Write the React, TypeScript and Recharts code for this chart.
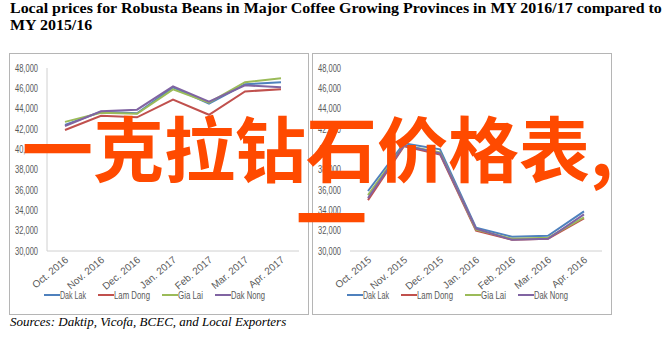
import React from 'react';
import { LineChart, Line, XAxis, YAxis, Legend } from 'recharts';

const monthsCurrent = ['Oct. 2016', 'Nov. 2016', 'Dec. 2016', 'Jan. 2017', 'Feb. 2017', 'Mar. 2017', 'Apr. 2017'];
const monthsPrevious = ['Oct. 2015', 'Nov. 2015', 'Dec. 2015', 'Jan. 2016', 'Feb. 2016', 'Mar. 2016', 'Apr. 2016'];

// MY 2016/17 prices (VND/kg)
const dakLakCurrent = [42400, 43700, 43550, 46100, 44500, 46400, 46600];
const lamDongCurrent = [41900, 43300, 43150, 44900, 43400, 45700, 45900];
const giaLaiCurrent = [42700, 43600, 43500, 45900, 44600, 46600, 47000];
const dakNongCurrent = [42300, 43750, 43900, 46200, 44700, 46300, 46100];

// MY 2015/16 prices (VND/kg)
const dakLakPrevious = [35900, 40600, 40000, 32300, 31400, 31500, 33900];
const lamDongPrevious = [35000, 40300, 39500, 32000, 31100, 31200, 33200];
const giaLaiPrevious = [35500, 40400, 39700, 32100, 31200, 31300, 33300];
const dakNongPrevious = [35200, 40400, 39600, 32200, 31100, 31200, 33600];

const yTicks = [30000, 32000, 34000, 36000, 38000, 40000, 42000, 44000, 46000, 48000];

const SERIES = [
  { key: 'Dak Lak', color: '#4F81BD', labelWidth: 26 },
  { key: 'Lam Dong', color: '#C0504D', labelWidth: 36 },
  { key: 'Gia Lai', color: '#9BBB59', labelWidth: 25 },
  { key: 'Dak Nong', color: '#8064A2', labelWidth: 34 },
];

const FONT = "'Liberation Sans Narrow', 'Liberation Sans', sans-serif";
const LABEL_COLOR = '#595959';

function buildRows(months: string[], lists: number[][]) {
  return months.map((month, i) => {
    const row: Record<string, any> = { month };
    SERIES.forEach((s, j) => {
      row[s.key] = lists[j][i];
    });
    return row;
  });
}

const currentData = buildRows(monthsCurrent, [dakLakCurrent, lamDongCurrent, giaLaiCurrent, dakNongCurrent]);
const previousData = buildRows(monthsPrevious, [dakLakPrevious, lamDongPrevious, giaLaiPrevious, dakNongPrevious]);

const XTick = ({ x, y, payload }: any) => {
  const ax = x + 4;
  const ay = y + 10;
  return (
    <text
      x={ax}
      y={ay}
      transform={`rotate(-40, ${ax}, ${ay})`}
      textAnchor="end"
      fontSize={10}
      fontFamily={FONT}
      fill={LABEL_COLOR}
    >
      {payload.value}
    </text>
  );
};

const YTick = ({ x, y, payload }: any) => (
  <text
    x={x}
    y={y}
    dy={3.5}
    textAnchor="end"
    textLength={23}
    lengthAdjust="spacingAndGlyphs"
    fontSize={10}
    fontFamily={FONT}
    fill={LABEL_COLOR}
  >
    {Number(payload.value).toLocaleString('en-US')}
  </text>
);

// legend drawn as svg so label widths can be held narrow like the original
const LegendRow = () => {
  const gap = 12;
  const icon = 16;
  const pad = 6;
  const total = SERIES.reduce((acc, s) => acc + icon + s.labelWidth, 0) + gap * (SERIES.length - 1);
  let cursor = pad;
  return (
    <div style={{ display: 'flex', justifyContent: 'center', height: 18 }}>
      <svg width={total + pad * 2} height={18} style={{ overflow: 'visible' }}>
        {SERIES.map((s) => {
          const start = cursor;
          cursor += icon + s.labelWidth + gap;
          return (
            <g key={s.key}>
              <line x1={start} x2={start + icon} y1={9} y2={9} stroke={s.color} strokeWidth={2} />
              <text
                x={start + icon}
                y={12.5}
                fontSize={10}
                fontFamily={FONT}
                fill={LABEL_COLOR}
                textLength={s.labelWidth}
                lengthAdjust="spacingAndGlyphs"
              >
                {s.key}
              </text>
            </g>
          );
        })}
      </svg>
    </div>
  );
};

function PriceChart({ data, showValueAxisLine }: { data: any[]; showValueAxisLine: boolean }) {
  return (
    <LineChart width={298} height={260} data={data} margin={{ top: 14, right: 9, bottom: 10, left: 0 }}>
      <XAxis
        dataKey="month"
        interval={0}
        padding={{ left: 18, right: 18 }}
        tickLine={false}
        tickSize={0}
        tickMargin={0}
        height={35}
        stroke="#d0d0d0"
        tick={<XTick />}
      />
      <YAxis
        domain={[30000, 48000]}
        ticks={yTicks}
        interval={0}
        width={37}
        axisLine={showValueAxisLine ? { stroke: '#d0d0d0' } : false}
        tickLine={false}
        tickSize={0}
        tickMargin={9}
        tick={<YTick />}
      />
      <Legend verticalAlign="bottom" height={18} content={<LegendRow />} />
      {SERIES.map((s) => (
        <Line
          key={s.key}
          type="linear"
          dataKey={s.key}
          stroke={s.color}
          strokeWidth={2}
          dot={false}
          isAnimationActive={false}
        />
      ))}
    </LineChart>
  );
}

const frameStyle: React.CSSProperties = {
  position: 'absolute',
  top: 53,
  width: 298,
  height: 260,
  border: '1px solid #b5b5b5',
  boxSizing: 'content-box',
  background: '#fff',
};

export default function App() {
  return (
    <div style={{ position: 'absolute', left: 0, top: 0, width: 665, height: 359, background: '#fff', overflow: 'hidden' }}>
      <div
        style={{
          position: 'absolute',
          left: 10,
          top: 0,
          fontFamily: "'Liberation Serif', serif",
          fontWeight: 'bold',
          fontSize: 14.5,
          lineHeight: '17px',
          whiteSpace: 'nowrap',
          color: '#000',
          transform: 'scaleX(1.1)',
          transformOrigin: 'left top',
        }}
      >
        Local prices for Robusta Beans in Major Coffee Growing Provinces in MY 2016/17 compared to
        <br />
        MY 2015/16
      </div>

      <div style={{ ...frameStyle, left: 9 }}>
        <PriceChart data={currentData} showValueAxisLine={true} />
      </div>
      <div style={{ ...frameStyle, left: 312 }}>
        <PriceChart data={previousData} showValueAxisLine={false} />
      </div>

      <div
        style={{
          position: 'absolute',
          left: 10,
          top: 314,
          fontFamily: "'Liberation Serif', serif",
          fontStyle: 'italic',
          fontSize: 13,
          color: '#000',
          whiteSpace: 'nowrap',
        }}
      >
        Sources: Daktip, Vicofa, BCEC, and Local Exporters
      </div>

      <svg width={665} height={359} style={{ position: 'absolute', left: 0, top: 0, pointerEvents: 'none' }}>
        <text
          x={22}
          y={176}
          fontSize={71}
          fontWeight="bold"
          fontFamily="'Noto Sans CJK SC', sans-serif"
          fill="#FF4A00"
        >
          一克拉钻石价格表,
        </text>
        <text
          x={296}
          y={245}
          fontSize={71}
          fontWeight="bold"
          fontFamily="'Noto Sans CJK SC', sans-serif"
          fill="#FF4A00"
        >
          一
        </text>
      </svg>
    </div>
  );
}
